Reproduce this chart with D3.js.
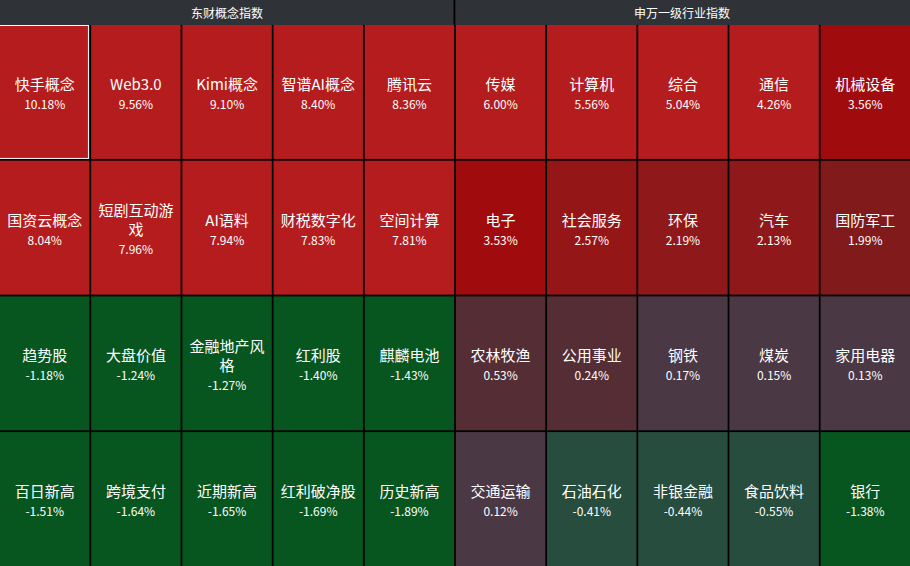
<!DOCTYPE html>
<html>
<head>
<meta charset="utf-8">
<script src="https://cdn.jsdelivr.net/npm/d3@7"></script>
<style>
  html, body { margin: 0; padding: 0; background: #000; }
  svg { display: block; }
  text { font-family: "Noto Sans CJK SC", "Noto Sans", sans-serif; }
</style>
</head>
<body>
<svg id="chart" width="910" height="566"></svg>
<script>
const panelTitles = ["东财概念指数", "申万一级行业指数"];

const conceptNames = [
  "快手概念", "Web3.0", "Kimi概念", "智谱AI概念", "腾讯云",
  "国资云概念", "短剧互动游戏", "AI语料", "财税数字化", "空间计算",
  "趋势股", "大盘价值", "金融地产风格", "红利股", "麒麟电池",
  "百日新高", "跨境支付", "近期新高", "红利破净股", "历史新高"
];
const conceptValues = [
  10.18, 9.56, 9.10, 8.40, 8.36,
  8.04, 7.96, 7.94, 7.83, 7.81,
  -1.18, -1.24, -1.27, -1.40, -1.43,
  -1.51, -1.64, -1.65, -1.69, -1.89
];

const industryNames = [
  "传媒", "计算机", "综合", "通信", "机械设备",
  "电子", "社会服务", "环保", "汽车", "国防军工",
  "农林牧渔", "公用事业", "钢铁", "煤炭", "家用电器",
  "交通运输", "石油石化", "非银金融", "食品饮料", "银行"
];
const industryValues = [
  6.00, 5.56, 5.04, 4.26, 3.56,
  3.53, 2.57, 2.19, 2.13, 1.99,
  0.53, 0.24, 0.17, 0.15, 0.13,
  0.12, -0.41, -0.44, -0.55, -1.38
];

const colorThresholds = [-1, 0, 0.2, 1, 2, 2.5, 3, 4];
const colorRange = ["#07561f", "#274d3e", "#4b3845", "#552e35", "#801a1b", "#8e181a", "#951617", "#a00c0e", "#b51c1d"];

const W = 910, H = 566, headerH = 25, cols = 5, rows = 4;
const svg = d3.select("#chart");
const color = d3.scaleThreshold().domain(colorThresholds).range(colorRange);

const x = d3.scaleBand().domain(d3.range(cols * 2)).range([0, W]).paddingInner(0.019);
const y = d3.scaleBand().domain(d3.range(rows)).range([headerH, H]).paddingInner(0.013);

const panels = [
  { title: panelTitles[0], names: conceptNames, values: conceptValues },
  { title: panelTitles[1], names: industryNames, values: industryValues }
];

// header
svg.append("rect").attr("x", 0).attr("y", 0).attr("width", W).attr("height", headerH).attr("fill", "#2f3236");
svg.append("rect").attr("x", 453.5).attr("y", 0).attr("width", 1.8).attr("height", headerH).attr("fill", "#000");
panels.forEach((p, pi) => {
  svg.append("text")
    .attr("x", pi === 0 ? 227 : 682).attr("y", 12.5)
    .attr("text-anchor", "middle").attr("dominant-baseline", "central")
    .attr("fill", "#fff").attr("font-size", 12)
    .text(p.title);
});

const cells = [];
panels.forEach((p, pi) => {
  p.names.forEach((n, i) => {
    cells.push({ name: n, value: p.values[i], col: pi * cols + (i % cols), row: Math.floor(i / cols) });
  });
});

const g = svg.append("g").selectAll("g").data(cells).join("g")
  .attr("transform", d => `translate(${x(d.col)},${y(d.row)})`);

g.append("rect")
  .attr("width", x.bandwidth()).attr("height", y.bandwidth())
  .attr("fill", d => color(d.value));

const bw = x.bandwidth(), bh = y.bandwidth();
const maxW = bw - 10;

g.each(function(d) {
  const sel = d3.select(this);
  const probe = sel.append("text").attr("font-size", 15).attr("visibility", "hidden");
  const chars = Array.from(d.name);
  const lines = [];
  let cur = "";
  chars.forEach(c => {
    probe.text(cur + c);
    if (cur && probe.node().getComputedTextLength() > maxW) {
      lines.push(cur); cur = c;
    } else cur += c;
  });
  if (cur) lines.push(cur);
  probe.remove();

  const lineH = 19, gapV = 20;
  const span = (lines.length - 1) * lineH + gapV;
  const top = bh / 2 + 1.5 - span / 2;
  lines.forEach((ln, li) => {
    sel.append("text")
      .attr("x", bw / 2).attr("y", top + li * lineH)
      .attr("text-anchor", "middle").attr("dominant-baseline", "central")
      .attr("fill", "#fff").attr("font-size", 15)
      .text(ln);
  });
  sel.append("text")
    .attr("x", bw / 2).attr("y", top + (lines.length - 1) * lineH + gapV)
    .attr("text-anchor", "middle").attr("dominant-baseline", "central")
    .attr("fill", "#fff").attr("font-size", 12)
    .text(d.value.toFixed(2) + "%");
});

// highlighted first cell border
const first = cells[0];
svg.append("rect")
  .attr("x", x(first.col) - 0.5).attr("y", y(first.row) + 0.5)
  .attr("width", bw - 0.5).attr("height", bh - 1)
  .attr("fill", "none").attr("stroke", "#fff").attr("stroke-width", 1);
</script>
</body>
</html>
